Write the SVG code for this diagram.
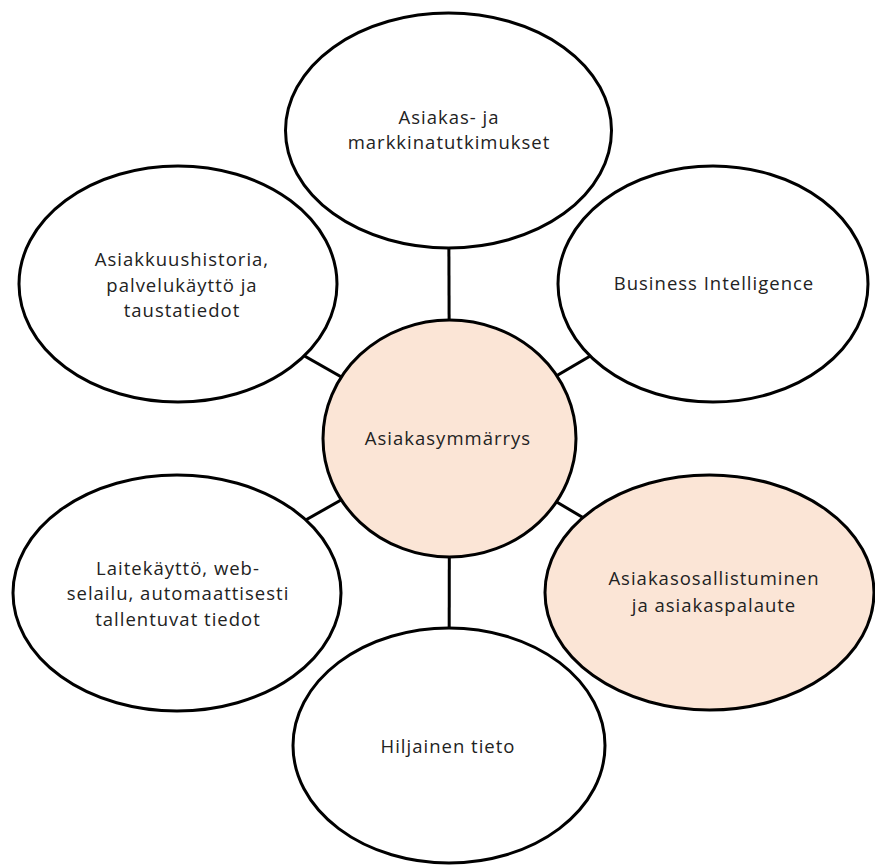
<svg xmlns="http://www.w3.org/2000/svg" width="875" height="865" viewBox="0 0 875 865">
<style>
.n{stroke:#000;stroke-width:3;fill:#fff}
.p{fill:#FBE5D6}
.c{stroke:#000;stroke-width:3}
text{font-family:"Open Sans","Noto Sans","Liberation Sans",sans-serif;font-size:18.5px;letter-spacing:1px;fill:#222;text-anchor:middle}
</style>
<rect width="875" height="865" fill="#fff"/>
<g id="connectors">
<line class="c" x1="449.5" y1="438.5" x2="448.5" y2="130"/>
<line class="c" x1="449.5" y1="438.5" x2="178" y2="284"/>
<line class="c" x1="449.5" y1="438.5" x2="713" y2="284"/>
<line class="c" x1="449.5" y1="438.5" x2="177" y2="593"/>
<line class="c" x1="449.5" y1="438.5" x2="709.5" y2="592.5"/>
<line class="c" x1="449.5" y1="438.5" x2="449" y2="745"/>
</g>
<g id="n-top">
<ellipse class="n" cx="448.5" cy="130.5" rx="163" ry="117.5"/>
<text x="449" y="124">Asiakas- ja</text>
<text x="449" y="149">markkinatutkimukset</text>
</g>
<g id="n-topleft">
<ellipse class="n" cx="178" cy="284" rx="159" ry="118"/>
<text x="182" y="266">Asiakkuushistoria,</text>
<text x="182" y="292">palvelukäyttö ja</text>
<text x="182" y="317">taustatiedot</text>
</g>
<g id="n-topright">
<ellipse class="n" cx="713" cy="284" rx="155" ry="118"/>
<text x="714" y="290">Business Intelligence</text>
</g>
<g id="n-bottomleft">
<ellipse class="n" cx="177" cy="593" rx="164" ry="118"/>
<text x="178" y="575">Laitekäyttö, web-</text>
<text x="178" y="600">selailu, automaattisesti</text>
<text x="178" y="626">tallentuvat tiedot</text>
</g>
<g id="n-bottomright">
<ellipse class="n p" cx="709.5" cy="592.5" rx="164.5" ry="117.5"/>
<text x="714" y="585">Asiakasosallistuminen</text>
<text x="714" y="612">ja asiakaspalaute</text>
</g>
<g id="n-bottom">
<ellipse class="n" cx="449" cy="745.5" rx="156" ry="117.5"/>
<text x="448" y="753">Hiljainen tieto</text>
</g>
<g id="n-center">
<ellipse class="n p" cx="449.5" cy="438.5" rx="126.5" ry="118.5"/>
<text x="448" y="445">Asiakasymmärrys</text>
</g>
</svg>
